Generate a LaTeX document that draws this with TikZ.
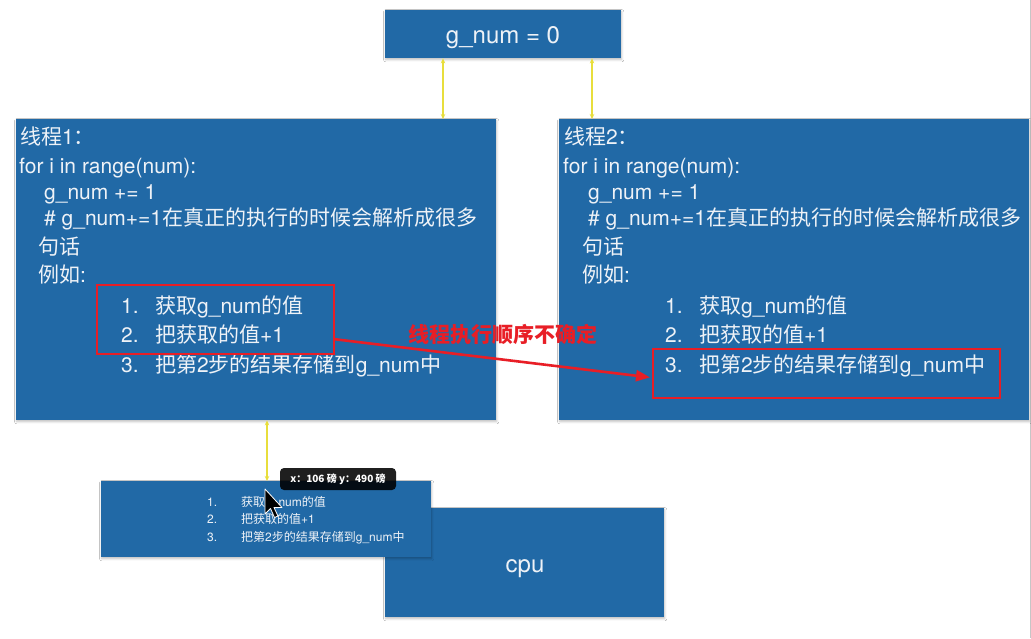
\documentclass[tikz,border=0pt]{standalone}
\usepackage{fontspec}
\setmainfont{TeX Gyre Heros}
\newfontfamily\cjk{Noto Sans CJK SC}
\usetikzlibrary{arrows.meta,calc,shadows.blur}
\definecolor{boxblue}{RGB}{33,105,166}
\definecolor{txtw}{RGB}{238,242,247}
\definecolor{redc}{RGB}{232,30,38}
\definecolor{yel}{RGB}{232,222,60}
\newcommand{\zh}[1]{{\cjk #1}}
\tikzset{
 bluebox/.style={fill=boxblue, draw=none, inner sep=0pt, anchor=north west,
   blur shadow={shadow xshift=0.5pt, shadow yshift=-1.5pt, shadow blur steps=4, shadow opacity=25}},
 ln/.style={text=txtw, font=\fontsize{21}{25}\selectfont, anchor=base west, inner sep=0pt},
 sm/.style={text=txtw, font=\fontsize{12}{14}\selectfont, anchor=base west, inner sep=0pt},
 redbox/.style={draw=redc, line width=1.8pt, inner sep=0pt, anchor=north west},
 yarrow/.style={draw=yel, line width=1.1pt, {Stealth[length=5pt,width=4.5pt]}-{Stealth[length=5pt,width=4.5pt]}},
 redarrow/.style={draw=redc, line width=2.6pt, -{Triangle[length=14pt,width=11pt]}},
}
\newcommand{\threadlines}[3]{%
 \node[ln] (#2a) at (20+#1,144) {\zh{线程}#3\zh{：}};
 \node[ln] (#2b) at (19+#1,173) {for i in range(num):};
 \node[ln] (#2c) at (44+#1,199) {g\_num += 1};
 \node[ln] (#2d) at (44+#1,225) {\# g\_num+=1\zh{在真正的执行的时候会解析成很多}};
 \node[ln] (#2e) at (38+#1,254) {\zh{句话}};
 \node[ln] (#2f) at (38+#1,282) {\zh{例如}:};
 \node[ln] (#2g) at (121+#1,313) {1.};
 \node[ln] (#2gt) at (155+#1,313) {\zh{获取}g\_num\zh{的值}};
 \node[ln] (#2h) at (121+#1,342) {2.};
 \node[ln] (#2ht) at (155+#1,342) {\zh{把获取的值}+1};
 \node[ln] (#2i) at (121+#1,372) {3.};
 \node[ln] (#2it) at (155+#1,372) {\zh{把第}2\zh{步的结果存储到}g\_num\zh{中}};
}
\begin{document}
\begin{tikzpicture}[x=1pt,y=-1pt]
\useasboundingbox (0,0) rectangle (1031,638);
\fill[white] (0,0) rectangle (1031,638);
\draw[gray!45, line width=1pt] (1030.5,0) -- (1030.5,638);

% top variable box
\node[bluebox, minimum width=236pt, minimum height=48pt] (g) at (385,10) {};
\node[text=txtw, font=\fontsize{24}{28}\selectfont, inner sep=0pt] (gt) at (503,38) {g\_num = 0};

% thread boxes
\node[bluebox, minimum width=480pt, minimum height=301pt] (t1) at (16,119) {};
\node[bluebox, minimum width=470pt, minimum height=301pt] (t2) at (559,119) {};
\threadlines{0}{p}{1}
\threadlines{544}{q}{2}

% yellow connectors
\draw[yarrow] ($(g.south west)+(58,0)$) -- ($(g.south west |- t1.north)+(58,0)$);
\draw[yarrow] ($(g.south west)+(207,0)$) -- ($(g.south west |- t2.north)+(207,0)$);

% cpu box and small box
\node[bluebox, minimum width=279pt, minimum height=109pt] (cpu) at (385,508) {};
\node[text=txtw, font=\fontsize{24}{28}\selectfont, inner sep=0pt] (cput) at (525,569) {cpu};
\node[bluebox, minimum width=330pt, minimum height=76pt] (s) at (101,481) {};
\node[sm] (s1) at (207,506) {1.};
\node[sm] (s1t) at (241,506) {\zh{获取}g\_num\zh{的值}};
\node[sm] (s2) at (207,523.5) {2.};
\node[sm] (s2t) at (241,523.5) {\zh{把获取的值}+1};
\node[sm] (s3) at (207,541) {3.};
\node[sm] (s3t) at (241,541) {\zh{把第}2\zh{步的结果存储到}g\_num\zh{中}};

\draw[yarrow] ($(t1.south west)+(251,0)$) -- ($(t1.south west |- s.north)+(251,0)$);

% red highlight boxes and arrow
\node[redbox, minimum width=237pt, minimum height=69pt] (r1) at (96,284) {};
\node[redbox, minimum width=347pt, minimum height=49pt] (r2) at (652,348) {};
\node[text=redc, font=\cjk\bfseries\fontsize{21}{25}\selectfont, inner sep=0pt] (lab) at (503,334) {线程执行顺序不确定};
\draw[redarrow] ($(r1.north east)!0.78!(r1.south east)$) -- ($(r2.west)+(-2,4)$);

% tooltip and cursor
\node[fill=black, fill opacity=0.88, text opacity=1, rounded corners=4pt, minimum width=116pt, minimum height=22pt, inner sep=0pt, text=white, font=\cjk\bfseries\fontsize{10}{12}\selectfont] (tip) at (338,479) {x：106 磅 y：490 磅};
\draw[fill=black, draw=white, line width=0.8pt, line join=round] (265,489) -- (265,514) -- (270.5,508.5) -- (274.5,517.5) -- (278,516) -- (274,507.5) -- (282,507.5) -- cycle;
\end{tikzpicture}
\end{document}
